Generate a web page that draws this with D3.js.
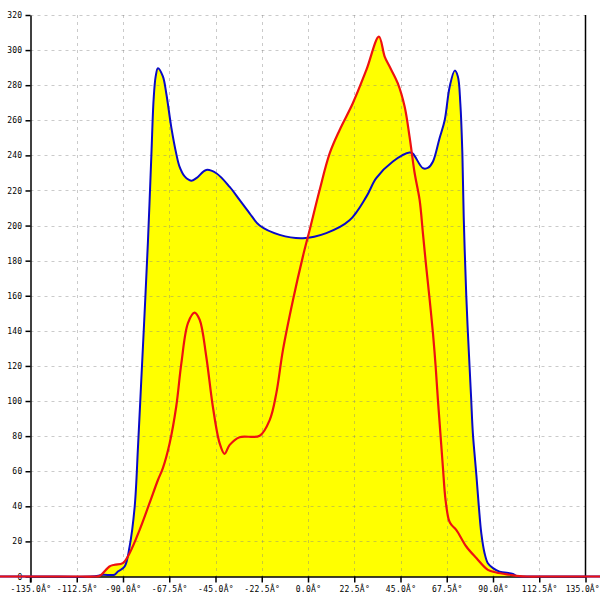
<!DOCTYPE html>
<html>
<head>
<meta charset="utf-8">
<script src="https://cdn.jsdelivr.net/npm/d3@7"></script>
<style>
html,body{margin:0;padding:0;background:#fff;}
svg{display:block;}
</style>
</head>
<body>
<svg id="chart" width="600" height="600"></svg>
<script>
// Tick values
const xTicks = [-135, -112.5, -90, -67.5, -45, -22.5, 0, 22.5, 45, 67.5, 90, 112.5, 135];
const yTicks = [0, 20, 40, 60, 80, 100, 120, 140, 160, 180, 200, 220, 240, 260, 280, 300, 320];

// Blue series (angle in degrees, value)
const blueAngles = [-150, -130, -106, -102, -99.8, -94.1, -92.5, -89.2, -86.8, -84.3, -82.7, -81.1, -79.5, -77.9, -76.2, -75.1, -74.1, -73.0, -70.6, -68.9, -66.5, -64.1, -62.5, -60.0, -56.8, -54.3, -49.5, -44.6, -38.1, -33.3, -28.4, -23.5, -13.8, -2.5, 8.9, 20.2, 28.4, 33.2, 41.3, 49.4, 51.0, 55.9, 58.5, 60.8, 64.0, 66.5, 68.9, 71.4, 72.9, 74.1, 75.1, 75.8, 77.0, 77.8, 78.6, 79.4, 80.2, 81.9, 83.1, 84.3, 85.9, 87.5, 90.0, 93.2, 99.7, 101.5, 106, 130, 150];
const blueValues = [0, 0, 0, 0.4, 1, 1, 2.8, 5.7, 17, 40, 74, 112, 150, 190, 240, 272, 285, 289.7, 285, 275, 256, 241, 233.6, 228, 225.6, 227, 231.7, 229.8, 222, 214.6, 207, 200, 194.7, 192.8, 195.7, 203, 216.5, 227, 236.5, 241.6, 241, 232.7, 233, 236.5, 249.8, 260, 279, 288.3, 285, 269.7, 241, 203, 160, 138.6, 119.7, 100.7, 81.7, 58, 40, 24.7, 13.3, 7.6, 4.8, 2.8, 1.5, 0.3, 0, 0, 0];

// Red series (angle in degrees, value)
const redAngles = [-150, -130, -110, -104, -101.4, -96.6, -94.1, -90.1, -86.8, -81.9, -77.1, -73.0, -70.6, -67.3, -64.1, -61.6, -58.4, -55.2, -52.7, -49.5, -46.3, -43.0, -40.6, -38.1, -33.3, -23.5, -18.6, -15.4, -12.2, -7.3, -2.5, 0.8, 5.6, 10.5, 15.4, 21.8, 28.4, 34.5, 37.3, 39.7, 43.7, 47.0, 49.4, 51.9, 54.3, 55.9, 57.5, 59.2, 60.8, 62.1, 63.2, 64.4, 65.6, 66.9, 68.5, 69.7, 72.1, 77.0, 81.9, 87.5, 91.6, 98.1, 102.9, 107, 115, 130, 150];
const redValues = [0, 0, 0, 0, 0.3, 5.7, 6.7, 7.6, 13.3, 26.6, 41.8, 55, 61.8, 76, 96.9, 121.6, 144.4, 150.4, 146.3, 125.4, 96.9, 76, 69.9, 75, 79.4, 80.2, 89.3, 104.5, 129, 157.6, 182.3, 197.5, 220, 241, 254.5, 269.7, 288.7, 307.7, 296.3, 290.6, 281, 267.8, 250.7, 229.8, 214.6, 195.7, 176.6, 157.6, 138.6, 119.7, 100.7, 81.7, 62.7, 43.7, 32.3, 29.5, 26.6, 17.1, 10.5, 3.8, 2.3, 1, 0.2, 0, 0, 0, 0];

const svg = d3.select("#chart");
const x = d3.scaleLinear().domain([-135, 135]).range([30.5, 585.5]);
const y = d3.scaleLinear().domain([0, 320]).range([576.5, 15]);

const blue = blueAngles.map((a, i) => [a, blueValues[i]]);
const red = redAngles.map((a, i) => [a, redValues[i]]);

const curve = d3.curveCatmullRom.alpha(0.5);
const area = d3.area().x(d => x(d[0])).y0(y(0)).y1(d => Math.min(y(0), y(d[1]))).curve(curve);
const line = d3.line().x(d => x(d[0])).y(d => y(d[1])).curve(curve);

// fills
svg.append("path").attr("d", area(blue)).attr("fill", "#ffff00");
svg.append("path").attr("d", area(red)).attr("fill", "#ffff00");

// grid
const grid = svg.append("g").attr("stroke", "rgba(128,128,128,0.42)").attr("stroke-dasharray", "3,4").attr("stroke-width", 1);
grid.selectAll("line.h").data(yTicks.filter(v => v > 0)).join("line")
  .attr("x1", x(-135)).attr("x2", x(135))
  .attr("y1", d => Math.round(y(d)) + 0.5).attr("y2", d => Math.round(y(d)) + 0.5);
grid.selectAll("line.v").data(xTicks.filter(v => v > -135 && v < 135)).join("line")
  .attr("y1", y(320)).attr("y2", y(0))
  .attr("x1", d => Math.round(x(d)) + 0.5).attr("x2", d => Math.round(x(d)) + 0.5);

// axes
const fmt = d => d.toFixed(1) + "Â°";
const xAxis = svg.append("g").attr("transform", `translate(0,${y(0)})`)
  .call(d3.axisBottom(x).tickValues(xTicks).tickFormat(fmt).tickSize(6).tickPadding(4).tickSizeOuter(0));
const yAxis = svg.append("g").attr("transform", `translate(${x(-135)},0)`)
  .call(d3.axisLeft(y).tickValues(yTicks).tickFormat(d3.format("d")).tickSize(5).tickPadding(3).tickSizeOuter(0));
[xAxis, yAxis].forEach(g => {
  g.selectAll("text").attr("font-family", "DejaVu Sans Mono, monospace").attr("font-size", "8px")
    .attr("letter-spacing", "0.3px").attr("fill", "#000");
  g.selectAll(".tick line").attr("stroke", "#000").attr("stroke-width", 1.5);
  g.select(".domain").attr("stroke", "#000").attr("stroke-width", 1.5);
});
// keep the last x label inside the picture
xAxis.selectAll(".tick").filter(d => d === 135).select("text")
  .attr("text-anchor", "end").attr("x", 599 - x(135)).attr("letter-spacing", "0px");
// extend y axis slightly below baseline
svg.append("line").attr("x1", x(-135)).attr("x2", x(-135)).attr("y1", y(0)).attr("y2", y(0) + 6)
  .attr("stroke", "#000").attr("stroke-width", 1.5);
// right border
svg.append("line").attr("x1", x(135)).attr("x2", x(135)).attr("y1", y(320)).attr("y2", y(0))
  .attr("stroke", "#000").attr("stroke-width", 1.5);

// lines
svg.append("path").attr("d", line(blue)).attr("fill", "none").attr("stroke", "#0a0ac8").attr("stroke-width", 2);
svg.append("path").attr("d", line(red)).attr("fill", "none").attr("stroke", "#ee1111").attr("stroke-width", 2.2);
</script>
</body>
</html>
